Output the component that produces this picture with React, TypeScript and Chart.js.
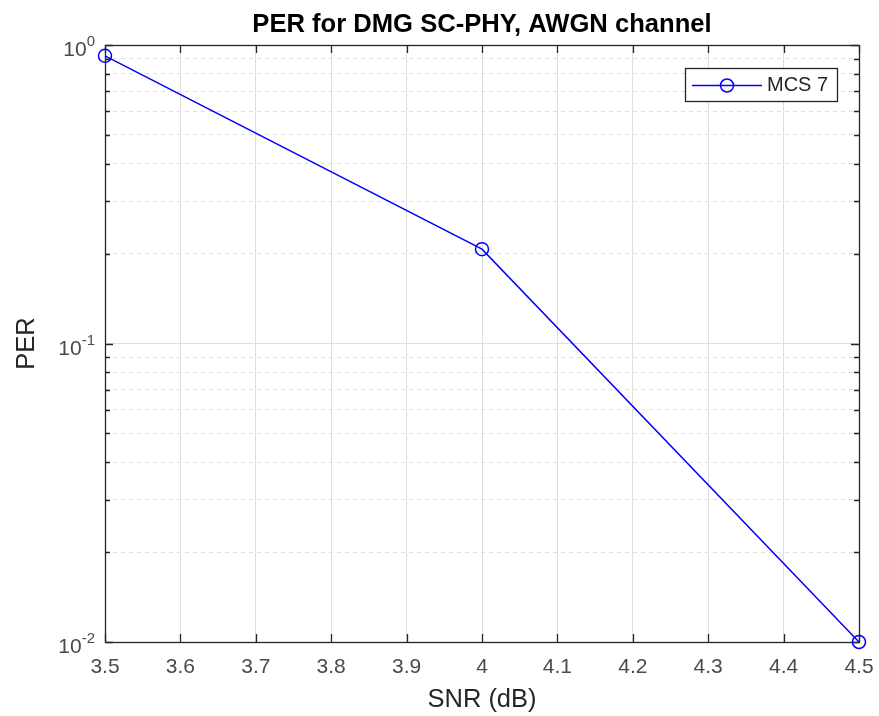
import React, { useEffect, useRef } from "react";
import { Chart, registerables } from "chart.js";

Chart.register(...registerables);

// ---- data ----
const snrValues = [3.5, 4, 4.5];
const perValues = [0.92, 0.207, 0.01];
const seriesLabel = "MCS 7";
const xTickValues = [3.5, 3.6, 3.7, 3.8, 3.9, 4.0, 4.1, 4.2, 4.3, 4.4, 4.5];
const yDecades = [0.01, 0.1, 1];
const yExponentLabels = ["-2", "-1", "0"];
const yMinorMultipliers = [2, 3, 4, 5, 6, 7, 8, 9];
const chartTitle = "PER for DMG SC-PHY, AWGN channel";
const xAxisTitle = "SNR (dB)";
const yAxisTitle = "PER";

const FONT = "'Liberation Sans', Arial, Helvetica, sans-serif";
const AXIS_COLOR = "#262626";
const LABEL_COLOR = "#4a4a4a";
const GRID_COLOR = "#dedede";
const LINE_COLOR = "rgb(0,0,255)";

function isDecade(v: number) {
  const l = Math.log10(v);
  return Math.abs(l - Math.round(l)) < 1e-9;
}

function allYTicks(): number[] {
  const out: number[] = [];
  for (let i = 0; i < yDecades.length; i++) {
    out.push(yDecades[i]);
    if (i < yDecades.length - 1) {
      for (const m of yMinorMultipliers) out.push(Number((yDecades[i] * m).toPrecision(6)));
    }
  }
  return out;
}

const decorPlugin = {
  id: "matlabDecor",
  beforeDatasetsDraw(chart: any) {
    const { ctx, chartArea: a, scales } = chart;
    const xs = scales.x;
    const ys = scales.y;
    ctx.save();
    ctx.strokeStyle = AXIS_COLOR;
    ctx.lineWidth = 1.3;
    ctx.beginPath();
    for (const v of xTickValues) {
      const px = Math.round(xs.getPixelForValue(v)) + 0.5;
      ctx.moveTo(px, a.bottom);
      ctx.lineTo(px, a.bottom - 8);
      ctx.moveTo(px, a.top);
      ctx.lineTo(px, a.top + 8);
    }
    for (const v of allYTicks()) {
      const py = Math.round(ys.getPixelForValue(v)) + 0.5;
      const len = isDecade(v) ? 8 : 5;
      ctx.moveTo(a.left, py);
      ctx.lineTo(a.left + len, py);
      ctx.moveTo(a.right, py);
      ctx.lineTo(a.right - len, py);
    }
    ctx.stroke();
    ctx.strokeRect(Math.round(a.left) + 0.5, Math.round(a.top) + 0.5, Math.round(a.right - a.left), Math.round(a.bottom - a.top));
    ctx.restore();
  },
  afterDraw(chart: any) {
    const { ctx, chartArea: a, scales } = chart;
    const ys = scales.y;
    ctx.save();
    for (let i = 0; i < yDecades.length; i++) {
      const py = ys.getPixelForValue(yDecades[i]);
      const exp = yExponentLabels[i];
      ctx.font = `15px ${FONT}`;
      const ew = ctx.measureText(exp).width;
      const right = a.left - 10;
      ctx.fillStyle = LABEL_COLOR;
      ctx.textBaseline = "middle";
      ctx.textAlign = "left";
      ctx.fillText(exp, right - ew, py - 3);
      ctx.font = `21px ${FONT}`;
      ctx.textAlign = "right";
      ctx.fillText("10", right - ew, py + 5.5);
    }
    const cx = (a.left + a.right) / 2;
    ctx.fillStyle = "#000000";
    ctx.font = `bold 25.6px ${FONT}`;
    ctx.textAlign = "center";
    ctx.textBaseline = "middle";
    ctx.fillText(chartTitle, cx, 25);
    ctx.fillStyle = AXIS_COLOR;
    ctx.font = `25.5px ${FONT}`;
    ctx.fillText(xAxisTitle, cx, 700);
    ctx.save();
    ctx.translate(27, (a.top + a.bottom) / 2);
    ctx.rotate(-Math.PI / 2);
    ctx.fillText(yAxisTitle, 0, 0);
    ctx.restore();
    // legend
    const bx = 685, by = 68, bw = 152, bh = 33;
    ctx.fillStyle = "#ffffff";
    ctx.fillRect(bx, by, bw, bh);
    ctx.strokeStyle = AXIS_COLOR;
    ctx.lineWidth = 1.3;
    ctx.strokeRect(bx + 0.5, by + 0.5, bw, bh);
    const ly = by + bh / 2 + 1;
    ctx.strokeStyle = LINE_COLOR;
    ctx.lineWidth = 1.5;
    ctx.beginPath();
    ctx.moveTo(692, ly);
    ctx.lineTo(762, ly);
    ctx.stroke();
    ctx.beginPath();
    ctx.arc(727, ly, 6.5, 0, Math.PI * 2);
    ctx.stroke();
    ctx.fillStyle = AXIS_COLOR;
    ctx.font = `20px ${FONT}`;
    ctx.textAlign = "left";
    ctx.fillText(seriesLabel, 767, ly);
    ctx.restore();
  },
};

export default function App() {
  const ref = useRef<HTMLCanvasElement | null>(null);
  useEffect(() => {
    if (!ref.current) return;
    const chart = new Chart(ref.current, {
      type: "line",
      data: {
        datasets: [
          {
            label: seriesLabel,
            data: snrValues.map((x, i) => ({ x, y: perValues[i] })),
            borderColor: LINE_COLOR,
            borderWidth: 1.5,
            pointRadius: 6.5,
            pointBorderColor: LINE_COLOR,
            pointBackgroundColor: "rgba(0,0,0,0)",
            pointBorderWidth: 1.5,
            tension: 0,
            clip: false,
          } as any,
        ],
      },
      options: {
        animation: false,
        responsive: false,
        devicePixelRatio: 1,
        layout: { padding: { top: 45, right: 20, left: 0, bottom: 0 } },
        plugins: { legend: { display: false }, title: { display: false }, tooltip: { enabled: false } },
        scales: {
          x: {
            type: "linear",
            min: 3.5,
            max: 4.5,
            afterBuildTicks: (s: any) => {
              s.ticks = xTickValues.map((v) => ({ value: v }));
            },
            afterFit: (s: any) => {
              s.height = 74;
              s.paddingLeft = 0;
              s.paddingRight = 0;
            },
            ticks: {
              callback: (v: any) => String(Number(Number(v).toFixed(1))),
              font: { family: FONT, size: 21 },
              color: LABEL_COLOR,
              padding: 13,
              maxRotation: 0,
              autoSkip: false,
            },
            grid: { color: GRID_COLOR, lineWidth: 1, drawTicks: false },
            border: { display: false },
          },
          y: {
            type: "logarithmic",
            min: 0.01,
            max: 1,
            afterBuildTicks: (s: any) => {
              s.ticks = allYTicks().map((v) => ({ value: v, major: isDecade(v) }));
            },
            afterFit: (s: any) => {
              s.width = 105;
              s.paddingTop = 0;
              s.paddingBottom = 0;
            },
            ticks: { display: false },
            grid: {
              color: GRID_COLOR,
              lineWidth: 1,
              drawTicks: false,
            },
            border: {
              display: false,
              dash: (c: any) => (c.tick && !isDecade(c.tick.value) ? [4, 4] : []),
            } as any,
          },
        },
      },
      plugins: [decorPlugin],
    } as any);
    return () => chart.destroy();
  }, []);
  return (
    <div style={{ position: "fixed", left: 0, top: 0, width: 879, height: 716, background: "#fff" }}>
      <canvas ref={ref} width={879} height={716} style={{ width: 879, height: 716, display: "block" }} />
    </div>
  );
}
